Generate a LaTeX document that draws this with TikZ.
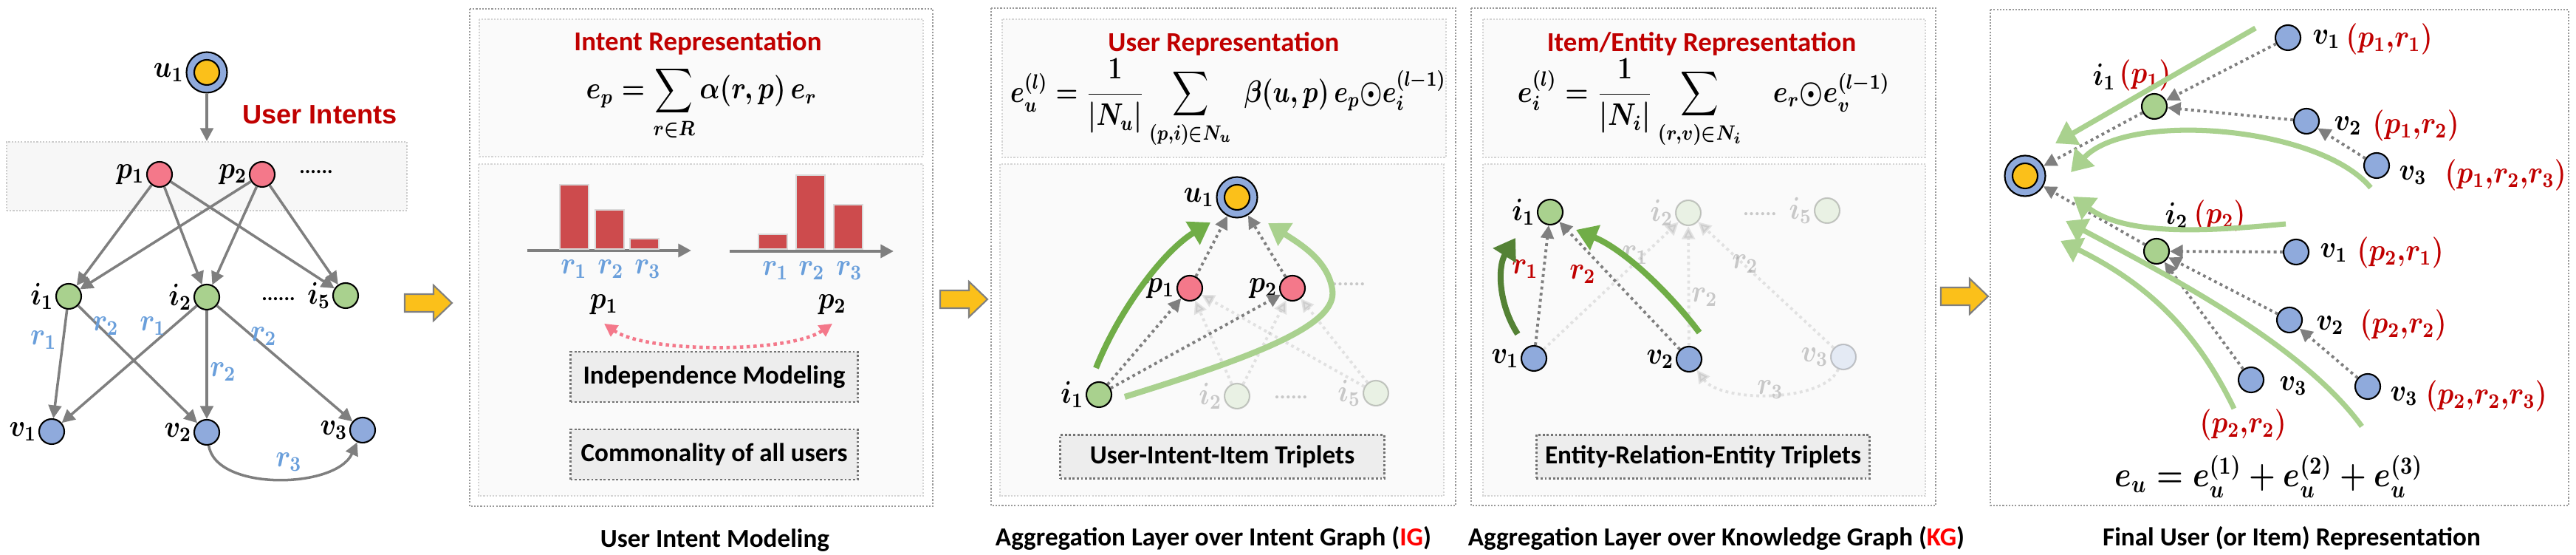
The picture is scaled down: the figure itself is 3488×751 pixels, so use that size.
\documentclass[tikz,border=0pt]{standalone}
\usepackage[no-math]{fontspec}
\usepackage{amsmath,graphicx}
\setmainfont{Carlito}
\newfontfamily\arialfont{Liberation Sans}
\usetikzlibrary{arrows.meta,positioning}

\definecolor{userblue}{HTML}{8FAADC}
\definecolor{usergold}{HTML}{FBC01A}
\definecolor{intentpink}{HTML}{F4788A}
\definecolor{itemgreen}{HTML}{A9D18E}
\definecolor{edgegray}{HTML}{7F7F7F}
\definecolor{titlered}{HTML}{C00000}
\definecolor{relblue}{HTML}{6A9FDB}
\definecolor{flowgreen}{HTML}{70AD47}
\definecolor{deepgreen}{HTML}{548235}
\definecolor{barred}{HTML}{CD4B4D}

% math is set at 12pt and squeezed to the narrow look of the original
\newcommand{\sym}[2]{\scalebox{0.86}[1]{\fontsize{12}{14}\selectfont\boldmath$#1_{#2}$}}
\newcommand{\tup}[1]{\textcolor{titlered}{\scalebox{0.86}[1]{\fontsize{12}{14}\selectfont\boldmath$(#1)$}}}
\newcommand{\eqintent}{\scalebox{0.85}[1]{\boldmath$\displaystyle e_p=\sum_{r\in R}\alpha(r,p)\,e_r$}}
\newcommand{\equser}{\scalebox{0.81}[1]{\boldmath$\displaystyle e_u^{(l)}=\frac{1}{|N_u|}\sum_{(p,i)\in N_u}\;\beta(u,p)\,e_p{\odot}e_i^{(l-1)}$}}
\newcommand{\eqitem}{\scalebox{0.85}[1]{\boldmath$\displaystyle e_i^{(l)}=\frac{1}{|N_i|}\sum_{(r,v)\in N_i}\quad e_r{\odot}e_v^{(l-1)}$}}
\newcommand{\eqfinal}{\scalebox{0.81}[0.95]{\boldmath$e_u=e_u^{(1)}+e_u^{(2)}+e_u^{(3)}$}}
\def\nodesize{3.4mm}

\begin{document}
\begin{tikzpicture}[x=0.1mm,y=-0.1mm,>={Triangle[length=5pt,width=5pt]}]
    \tikzstyle{every node}=[font=\fontsize{12}{14}\selectfont]
    \tikzstyle{every label}=[inner sep=0.5pt]
    \tikzstyle{plain node}=[circle,draw=black,line width=0.6pt,minimum size=\nodesize,inner sep=0pt]
    \tikzstyle{intent}=[plain node,fill=intentpink]
    \tikzstyle{item}=[plain node,fill=itemgreen]
    \tikzstyle{entity}=[plain node,fill=userblue]
    \tikzstyle{user}=[plain node,fill=userblue,minimum size=5.5mm,
        path picture={\draw[fill=usergold,line width=0.6pt] (path picture bounding box.center) circle (1.7mm);}]
    \tikzstyle{graph edge}=[->,draw=edgegray,line width=1pt]
    \tikzstyle{dot edge}=[->,draw=edgegray,line width=1.1pt,dash pattern=on 1.1pt off 1.3pt]
    \tikzstyle{flow}=[line width=2.3pt,-{Triangle[length=8pt,width=10pt]}]
    \tikzstyle{rel}=[text=relblue,inner sep=0pt]
    \tikzstyle{outer box}=[draw=black!40,line width=0.6pt,dash pattern=on 0.6pt off 0.6pt]
    \tikzstyle{inner box}=[draw=black!17,fill=black!2,line width=0.6pt,dash pattern=on 0.6pt off 0.6pt]
    \tikzstyle{tag box}=[draw=black!55,fill=black!7,line width=0.8pt,dash pattern=on 0.8pt off 0.8pt,
        minimum width=38.9mm,minimum height=6.8mm,font=\fontsize{10}{12}\selectfont\bfseries]
    \tikzstyle{panel title}=[text=titlered,font=\fontsize{10.5}{12}\selectfont\bfseries]
    \tikzstyle{panel caption}=[font=\fontsize{10}{12}\selectfont\bfseries]
    \tikzstyle{dot text}=[font=\fontsize{8}{10}\selectfont\bfseries]
    \tikzstyle{gold arrow}=[fill=usergold,draw=edgegray,line width=0.6pt,line join=miter]

    \useasboundingbox (0,0) rectangle (3488,751);

    % Draw the user, the intents and the items of the input graph
    \node[user,label=left:\sym{u}{1}] (u1) at (280,98) {};
    \node[text=titlered,font=\arialfont\bfseries\fontsize{10.3}{12}\selectfont] (uit) at (433,155) {User Intents};
    \node[inner box,fill=black!3,draw=black!20,minimum width=54.2mm,minimum height=9.3mm] (ibox) at (280,238.5) {};
    \draw[graph edge] (u1) -- (ibox.north);
    \foreach \n/\x in {1/216,2/355}
        \node[intent,label=left:\sym{p}{\n}] (p\n) at (\x,236) {};
    \node[dot text] (pdots) at (428,233) {......};
    \foreach \n/\x/\y in {1/93/401,2/280/402,5/468/400}
        \node[item,label=left:\sym{i}{\n}] (i\n) at (\x,\y) {};
    \node[dot text] (idots) at (377,405) {......};
    \foreach \n/\x/\y in {1/70/584,2/280/585,3/491/582}
        \node[entity,label=left:\sym{v}{\n}] (v\n) at (\x,\y) {};

    % Connect intents to items, items to entities
    \foreach \s in {1,2}
        \foreach \t in {1,2,5}
            \draw[graph edge] (p\s) -- (i\t);
    \foreach \s/\t in {1/1,1/2,2/1,2/2,2/3}
        \draw[graph edge] (i\s) -- (v\t);
    \draw[graph edge] (v2) .. controls (292,665) and (455,662) .. (v3);
    \foreach \name/\r/\x/\y in {a/1/59/460,b/2/143/441,c/1/207/441,d/2/302/503,e/2/357/455,f/3/391/625}
        \node[rel] (rl\name) at (\x,\y) {\sym{r}{\r}};

    % Block arrows between the stages
    \foreach \x/\y in {580/410,1305/405,2660/401}
        \draw[gold arrow] (\x-32,\y-12) -- (\x+7,\y-12) -- (\x+7,\y-24) -- (\x+32,\y)
            -- (\x+7,\y+24) -- (\x+7,\y+12) -- (\x-32,\y+12) -- cycle;

    % Intent representation
    \draw[outer box] (636,12) rectangle (1263,685);
    \draw[inner box] (649,26) rectangle (1250,212);
    \draw[inner box] (648,222) rectangle (1250,671);
    \node[panel title] (t1) at (945,58) {Intent Representation};
    \node (f1) at (950,140) {\eqintent};
    \draw[->,draw=edgegray,line width=1.3pt] (714,339) -- (936,339);
    \draw[->,draw=edgegray,line width=1.3pt] (988,340) -- (1210,340);
    \foreach \x/\h in {758/250,806/284,853/323,1027/317,1078/237,1129/277}
        \draw[fill=barred,draw=black!15,line width=0.6pt] (\x,\h) rectangle (\x+39,337);
    \foreach \r/\x in {1/777,2/827,3/877}
        \node[rel] (ra\r) at (\x,364) {\sym{r}{\r}};
    \foreach \r/\x in {1/1050,2/1099,3/1150}
        \node[rel] (rb\r) at (\x,366) {\sym{r}{\r}};
    \node (cp1) at (818,412) {\sym{p}{1}};
    \node (cp2) at (1127,412) {\sym{p}{2}};
    \draw[<->,draw=intentpink,line width=1.3pt,dash pattern=on 1.3pt off 1.3pt]
        (cp1.south) .. controls (875,478) and (1070,478) .. (cp2.south);
    \node[tag box] (indep) at (967,510) {Independence Modeling};
    \node[tag box] (common) at (967,615) {Commonality of all users};
    \node[panel caption] (cap1) at (968,731) {User Intent Modeling};

    % Aggregation over the intent graph
    \draw[outer box] (1342,11) rectangle (1971,684);
    \draw[inner box] (1357,26) rectangle (1958,213);
    \draw[inner box] (1354,222) rectangle (1955,671);
    \node[panel title] (t2) at (1657,59) {User Representation};
    \node (f2) at (1663,140) {\equser};
    \node[user,label=left:\sym{u}{1}] (gu) at (1675,267) {};
    \node[intent,label=left:\sym{p}{1}] (gp1) at (1611,390) {};
    \node[intent,label=left:\sym{p}{2}] (gp2) at (1750,390) {};
    \node[item,label=left:\sym{i}{1}] (gi1) at (1488,534) {};
    \begin{scope}[opacity=0.2]
        \node[item,label=left:\sym{i}{2}] (gi2) at (1675,536) {};
        \node[item,label=left:\sym{i}{5}] (gi5) at (1863,532) {};
        \node[dot text] (gdots) at (1748,538) {......};
        \node[dot text] (gpdots) at (1826,385) {......};
        \foreach \s in {gi2,gi5}
            \foreach \t in {gp1,gp2}
                \draw[dot edge] (\s) -- (\t);
    \end{scope}
    \foreach \s/\t in {gi1/gp1,gi1/gp2,gp1/gu,gp2/gu}
        \draw[dot edge] (\s) -- (\t);
    \coordinate (ga) at (1484,498);
    \coordinate (gb) at (1639,301);
    \draw[flow,flowgreen] (ga) .. controls (1515,420) and (1575,340) .. (gb);
    \coordinate (gc) at (1523,537);
    \coordinate (gd) at (1717,302);
    \draw[flow,itemgreen] (gc) .. controls (1700,482) and (1812,440) .. (1804,392)
        .. controls (1798,352) and (1760,330) .. (gd);
    \node[tag box,minimum width=43.9mm,minimum height=5.9mm] (uii) at (1655,618) {User-Intent-Item Triplets};
    \node[panel caption] (cap2) at (1643,728) {Aggregation Layer over Intent Graph (\textcolor{red}{IG})};

    % Aggregation over the knowledge graph
    \draw[outer box] (1992,11) rectangle (2621,684);
    \draw[inner box] (2008,26) rectangle (2607,213);
    \draw[inner box] (2008,222) rectangle (2607,671);
    \node[panel title] (t3) at (2304,59) {Item/Entity Representation};
    \node (f3) at (2307,140) {\eqitem};
    \node[item,label=left:\sym{i}{1}] (ki1) at (2099,287) {};
    \node[entity,label=left:\sym{v}{1}] (kv1) at (2077,485) {};
    \node[entity,label=left:\sym{v}{2}] (kv2) at (2287,486) {};
    \begin{scope}[opacity=0.2]
        \node[item,label=left:\sym{i}{2}] (ki2) at (2286,288) {};
        \node[item,label=left:\sym{i}{5}] (ki5) at (2474,285) {};
        \node[entity,label=left:\sym{v}{3}] (kv3) at (2496,483) {};
        \node[dot text] (kdots) at (2383,290) {......};
        \foreach \s in {kv1,kv2,kv3}
            \draw[dot edge] (\s) -- (ki2);
        \draw[dot edge] (kv3) .. controls (2470,545) and (2330,545) .. (kv2);
        \foreach \name/\r/\x/\y in {a/1/2214/345,b/2/2308/402,c/2/2363/357,d/3/2397/527}
            \node (kr\name) at (\x,\y) {\sym{r}{\r}};
    \end{scope}
    \foreach \s in {kv1,kv2}
        \draw[dot edge] (\s) -- (ki1);
    \node[text=titlered] (kra) at (2065,364) {\sym{r}{1}};
    \node[text=titlered] (krb) at (2143,371) {\sym{r}{2}};
    \coordinate (ka) at (2055,452);
    \coordinate (kb) at (2052,322);
    \draw[flow,deepgreen] (ka) .. controls (2028,410) and (2028,360) .. (kb);
    \coordinate (kc) at (2301,450);
    \coordinate (kd) at (2134,311);
    \draw[flow,flowgreen] (kc) .. controls (2262,398) and (2200,338) .. (kd);
    \node[tag box,minimum width=43.9mm,minimum height=5.9mm] (ere) at (2306,618) {Entity-Relation-Entity Triplets};
    \node[panel caption] (cap3) at (2324,728) {Aggregation Layer over Knowledge Graph (\textcolor{red}{KG})};

    % Final representation
    \draw[outer box] (2695,13) rectangle (3478,684);
    \node[user] (fu) at (2742,238) {};
    \node[item] (fi1) at (2917,144) {};
    \node[item] (fi2) at (2920,340) {};
    \foreach \name/\x/\y in {fv1/3098/51,fv2/3123/164,fv3/3218/224,fw1/3109/341,fw2/3100/433,fw3/3206/523,fx3/3048/514}
        \node[entity] (\name) at (\x,\y) {};
    \foreach \name/\s/\n/\x/\y in {li1/i/1/2833/104,lv1/v/1/3131/53,lv2/v/2/3160/170,lv3/v/3/3248/237,
            li2/i/2/2931/292,lw1/v/1/3141/342,lw2/v/2/3136/440,lw3/v/3/3236/536,lx3/v/3/3086/522}
        \node[anchor=west,inner sep=0pt] (\name) at (\x,\y) {\sym{\s}{\n}};
    \foreach \name/\t/\x/\y in {ti1/p_1/2869/102,tv1/{p_1{,}r_1}/3176/53,tv2/{p_1{,}r_2}/3212/170,tv3/{p_1{,}r_2{,}r_3}/3310/237,
            ti2/p_2/2970/292,tw1/{p_2{,}r_1}/3191/342,tw2/{p_2{,}r_2}/3195/440,tw3/{p_2{,}r_2{,}r_3}/3284/536,tx3/{p_2{,}r_2}/2978/575}
        \node[anchor=west,inner sep=0pt] (\name) at (\x,\y) {\tup{\t}};
    \foreach \s/\t in {fv1/fi1,fv2/fi1,fv3/fv2,fi1/fu,fw1/fi2,fw2/fi2,fx3/fi2,fw3/fw2,fi2/fu}
        \draw[dot edge] (\s) -- (\t);
    \coordinate (fa) at (3054,38);
    \coordinate (fb) at (2783,194);
    \draw[flow,itemgreen,line width=2pt] (fa) -- (fb);
    \coordinate (fc) at (3210,254);
    \coordinate (fd) at (2804,233);
    \draw[flow,itemgreen,line width=2pt] (fc) .. controls (3140,170) and (2880,150) .. (fd);
    \coordinate (fe) at (3095,303);
    \coordinate (ff) at (2807,266);
    \draw[flow,itemgreen,line width=2pt] (fe) .. controls (2990,313) and (2880,320) .. (ff);
    \coordinate (fg) at (3198,577);
    \coordinate (fh) at (2797,299);
    \draw[flow,itemgreen,line width=2pt] (fg) .. controls (3120,470) and (2950,380) .. (fh);
    \coordinate (fj) at (3025,553);
    \coordinate (fk) at (2790,326);
    \draw[flow,itemgreen,line width=2pt] (fj) .. controls (2980,460) and (2920,390) .. (fk);
    \node[font=\fontsize{14.4}{16}\selectfont] (f4) at (3072,645) {\eqfinal};
    \node[panel caption] (cap4) at (3103,728) {Final User (or Item) Representation};
\end{tikzpicture}
\end{document}
